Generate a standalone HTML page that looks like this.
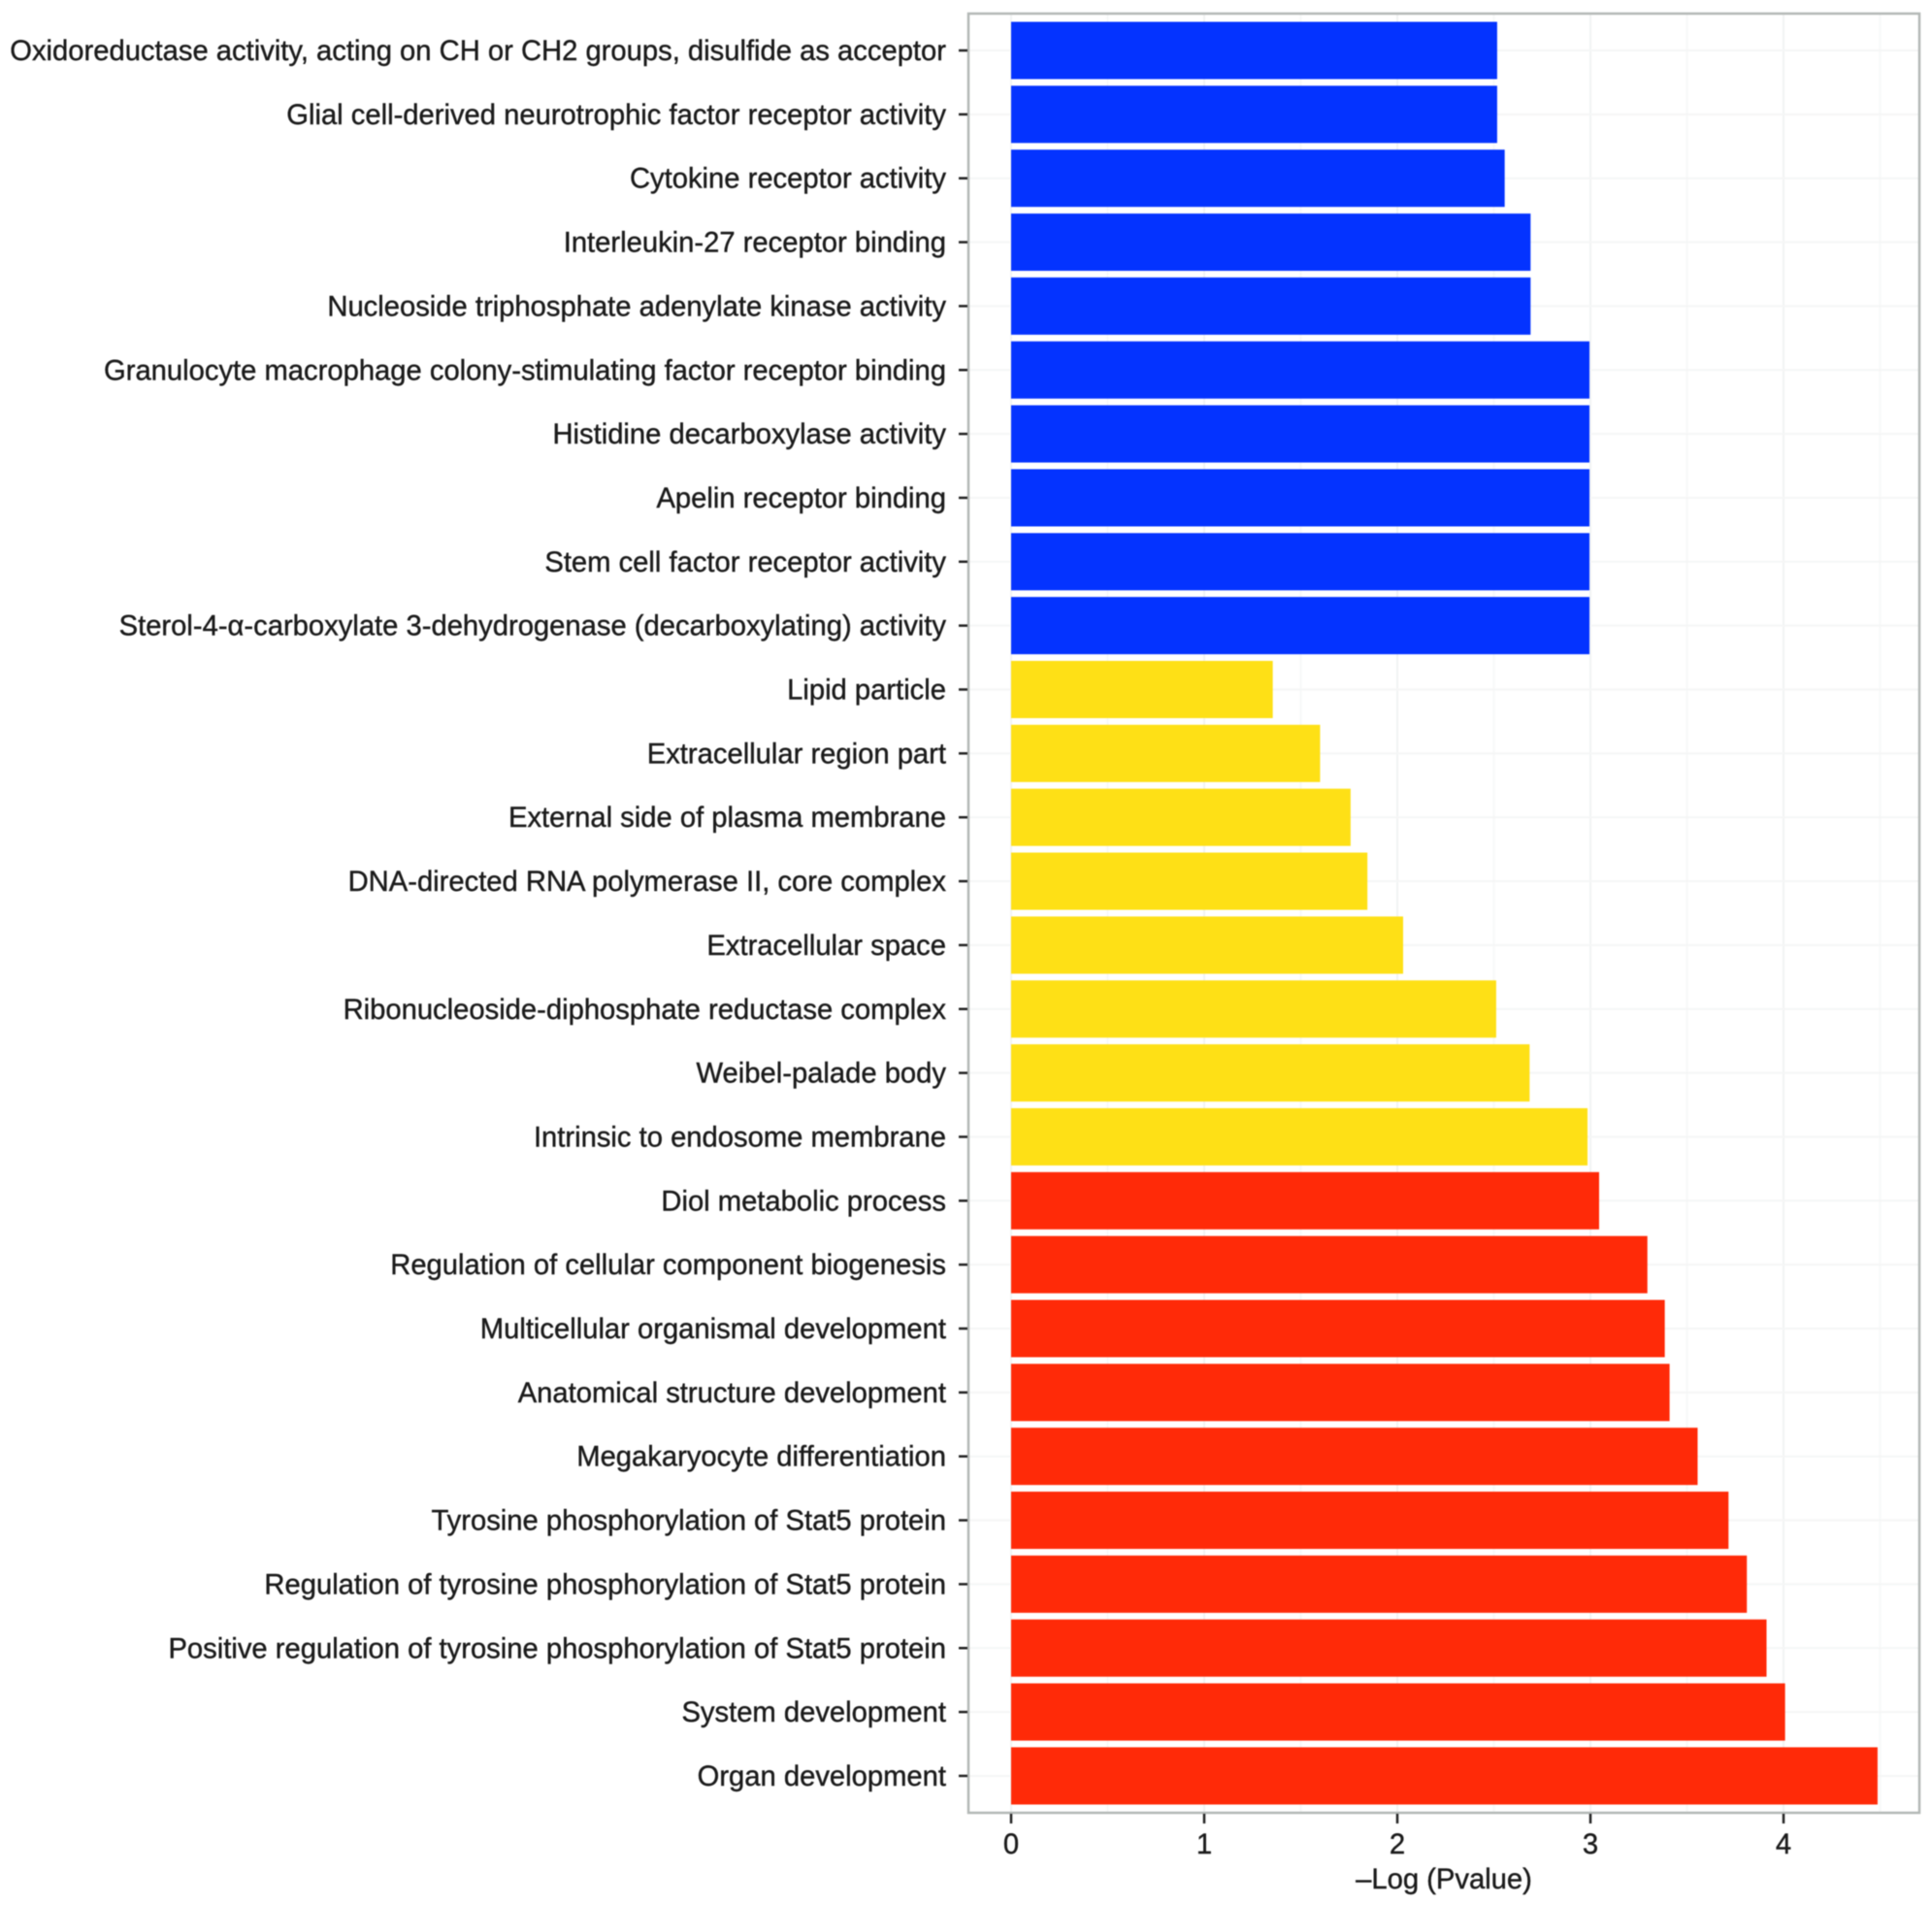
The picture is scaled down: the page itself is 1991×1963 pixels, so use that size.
<!DOCTYPE html>
<html lang="en">
<head>
<meta charset="utf-8">
<title>Enrichment bar chart</title>
<style>
  html, body { margin: 0; padding: 0; background: #fff; }
  svg { display: block; filter: blur(0.6px); }
  text { font-family: "Liberation Sans", Arial, sans-serif; fill: #1a1a1a; stroke: #1a1a1a; stroke-width: 0.4px; }
</style>
</head>
<body>
<svg id="chart" xmlns="http://www.w3.org/2000/svg" width="1991" height="1963" viewBox="0 0 1991 1963"></svg>
<script>
const categories = [
  "Oxidoreductase activity, acting on CH or CH2 groups, disulfide as acceptor",
  "Glial cell-derived neurotrophic factor receptor activity",
  "Cytokine receptor activity",
  "Interleukin-27 receptor binding",
  "Nucleoside triphosphate adenylate kinase activity",
  "Granulocyte macrophage colony-stimulating factor receptor binding",
  "Histidine decarboxylase activity",
  "Apelin receptor binding",
  "Stem cell factor receptor activity",
  "Sterol-4-α-carboxylate 3-dehydrogenase (decarboxylating) activity",
  "Lipid particle",
  "Extracellular region part",
  "External side of plasma membrane",
  "DNA-directed RNA polymerase II, core complex",
  "Extracellular space",
  "Ribonucleoside-diphosphate reductase complex",
  "Weibel-palade body",
  "Intrinsic to endosome membrane",
  "Diol metabolic process",
  "Regulation of cellular component biogenesis",
  "Multicellular organismal development",
  "Anatomical structure development",
  "Megakaryocyte differentiation",
  "Tyrosine phosphorylation of Stat5 protein",
  "Regulation of tyrosine phosphorylation of Stat5 protein",
  "Positive regulation of tyrosine phosphorylation of Stat5 protein",
  "System development",
  "Organ development"
];
const values = [
  2.517, 2.517, 2.556, 2.69, 2.69, 2.995, 2.995, 2.995, 2.995, 2.995,
  1.355, 1.60, 1.758, 1.845, 2.03, 2.512, 2.685, 2.985,
  3.045, 3.295, 3.385, 3.41, 3.555, 3.715, 3.81, 3.912, 4.008, 4.487
];
const groups = [
  "mf", "mf", "mf", "mf", "mf", "mf", "mf", "mf", "mf", "mf",
  "cc", "cc", "cc", "cc", "cc", "cc", "cc", "cc",
  "bp", "bp", "bp", "bp", "bp", "bp", "bp", "bp", "bp", "bp"
];
const groupColors = { mf: "#0433ff", cc: "#fee016", bp: "#ff2a08" };
const xTicks = [0, 1, 2, 3, 4];
const xMinorTicks = [0.5, 1.5, 2.5, 3.5, 4.5];
const xTitle = "–Log (Pvalue)";

const svg = document.getElementById('chart');
const NS = 'http://www.w3.org/2000/svg';
const panel = { left: 998, right: 1978, top: 14, bottom: 1868 };
const firstY = 52, stepY = 65.85, barHeight = 59;
const x0 = 1042, unit = 199;

function xScale(v) { return x0 + v * unit; }
function yScale(i) { return firstY + i * stepY; }
function make(tag, attrs, parent) {
  const el = document.createElementNS(NS, tag);
  for (const k in attrs) el.setAttribute(k, attrs[k]);
  (parent || svg).appendChild(el);
  return el;
}

const bg = make('rect', { x: panel.left, y: panel.top, width: panel.right - panel.left, height: panel.bottom - panel.top, fill: '#fff' });



xMinorTicks.forEach(function (t) {
  const g = make('line', { x1: xScale(t), x2: xScale(t), y1: panel.top, y2: panel.bottom, stroke: '#f7f8f8', 'stroke-width': 2 });
  
  
});
xTicks.forEach(function (t) {
  const g = make('line', { x1: xScale(t), x2: xScale(t), y1: panel.top, y2: panel.bottom, stroke: '#f2f3f3', 'stroke-width': 2 });
  
  
});
categories.forEach(function (c, i) {
  const g = make('line', { x1: panel.left, x2: panel.right, y1: yScale(i), y2: yScale(i), stroke: '#f5f6f6', 'stroke-width': 2 });
  
  
});

values.forEach(function (v, i) {
  const b = make('rect', {
    x: xScale(0), y: yScale(i) - barHeight / 2,
    width: xScale(v) - xScale(0), height: barHeight,
    fill: groupColors[groups[i]]
  });
  
  
});

const border = make('rect', { x: panel.left, y: panel.top, width: panel.right - panel.left, height: panel.bottom - panel.top, fill: 'none', stroke: '#b3b8b6', 'stroke-width': 2.5 });



categories.forEach(function (c, i) {
  const tick = make('line', { x1: 988, x2: 997, y1: yScale(i), y2: yScale(i), stroke: '#222', 'stroke-width': 2.5 });
  
  
  const label = make('text', { x: 975, y: yScale(i) + 10, 'text-anchor': 'end', 'font-size': 29.2 });
  label.textContent = c;
  
  
});

xTicks.forEach(function (t) {
  const tick = make('line', { x1: xScale(t), x2: xScale(t), y1: panel.bottom + 1, y2: panel.bottom + 11, stroke: '#222', 'stroke-width': 2.5 });
  
  
  const label = make('text', { x: xScale(t), y: 1910, 'text-anchor': 'middle', 'font-size': 29.2 });
  label.textContent = String(t);
  
  
});

const title = make('text', { x: 1488, y: 1946, 'text-anchor': 'middle', 'font-size': 29.2 });
title.textContent = xTitle;


</script>
</body>
</html>
